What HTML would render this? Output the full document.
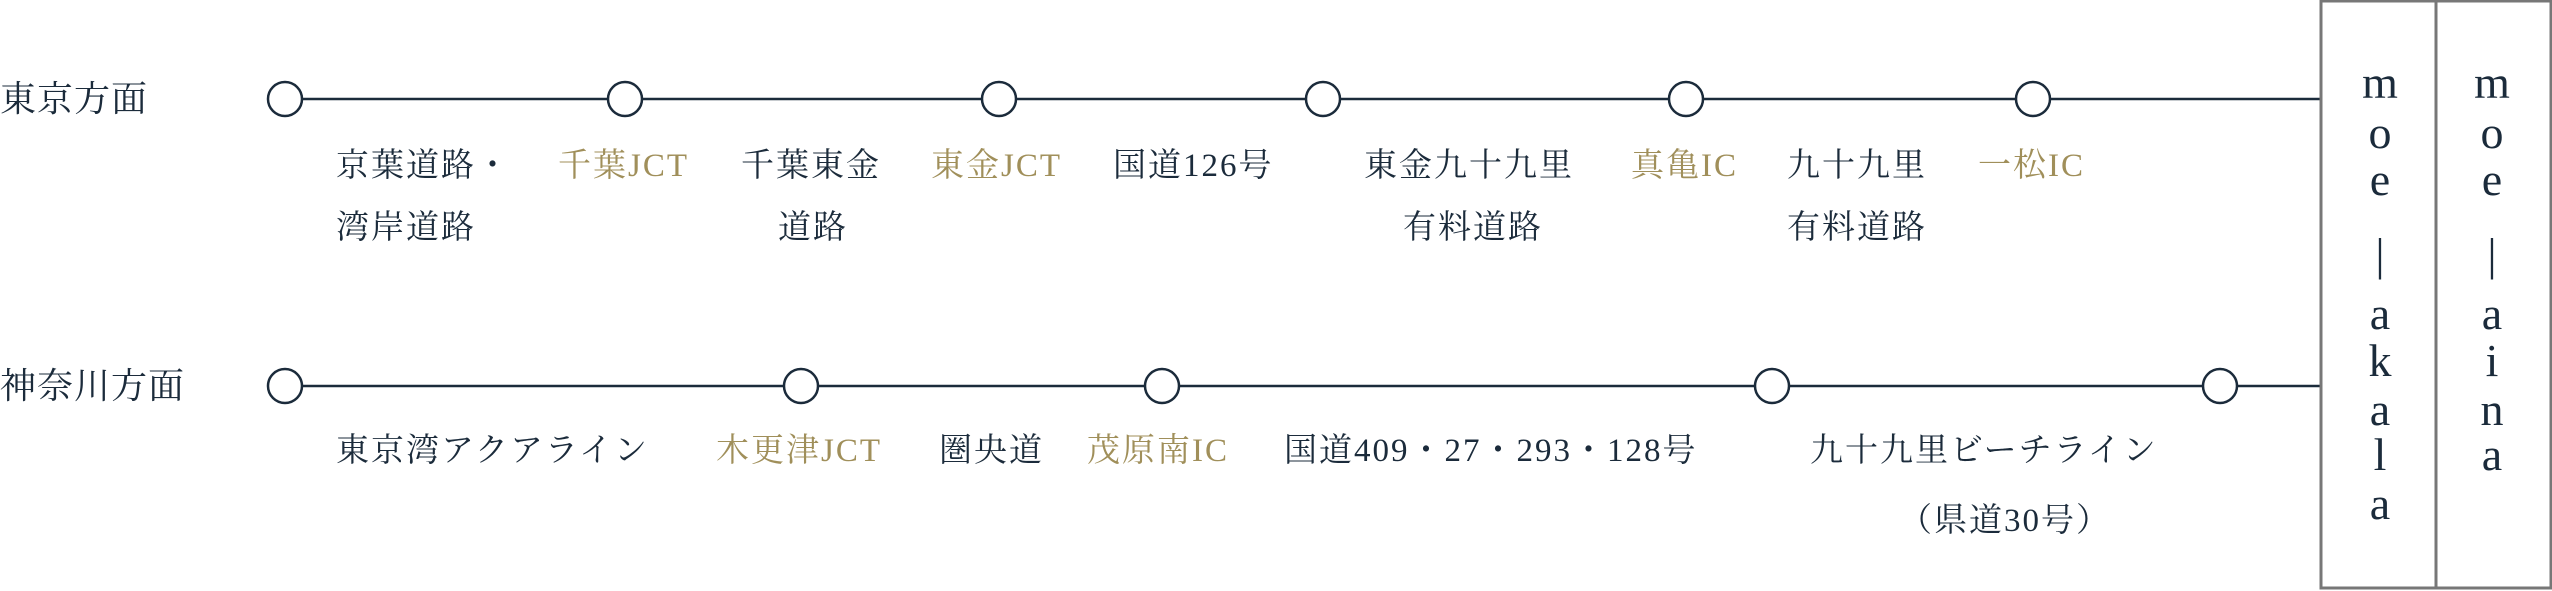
<!DOCTYPE html>
<html><head><meta charset="utf-8"><style>
body{margin:0;width:2552px;height:591px;background:#fff;overflow:hidden;position:relative;font-family:"Liberation Serif","Noto Serif CJK JP","Noto Serif CJK SC",serif;color:#1b2b3b}
.t{position:absolute;font-size:33px;line-height:34px;letter-spacing:2px;white-space:nowrap}
.g{color:#a08f5a}
.v{position:absolute;font-size:46px;line-height:46px;width:40px;text-align:center;color:#1b2b3b}
</style></head><body>
<svg width="2552" height="591" style="position:absolute;left:0;top:0">
<g stroke="#1b2b3b" stroke-width="2.5" fill="#fff">
<line x1="285" y1="99" x2="2321" y2="99"/>
<line x1="285" y1="386" x2="2321" y2="386"/>
<circle cx="285" cy="99" r="17"/><circle cx="625" cy="99" r="17"/><circle cx="999" cy="99" r="17"/><circle cx="1323" cy="99" r="17"/><circle cx="1686" cy="99" r="17"/><circle cx="2033" cy="99" r="17"/>
<circle cx="285" cy="386" r="17"/><circle cx="801" cy="386" r="17"/><circle cx="1162" cy="386" r="17"/><circle cx="1772" cy="386" r="17"/><circle cx="2220" cy="386" r="17"/>
</g>
<rect x="2321" y="1" width="230" height="587" fill="none" stroke="#777" stroke-width="3"/>
<line x1="2436" y1="1" x2="2436" y2="588" stroke="#777" stroke-width="3"/>
</svg>
<div class="t" style="left:0px;top:80px;font-size:36px;line-height:38px;letter-spacing:1px">東京方面</div>
<div class="t" style="left:0px;top:367px;font-size:36px;line-height:38px;letter-spacing:1px">神奈川方面</div>

<div class="t" style="left:336px;top:149px">京葉道路・</div>
<div class="t" style="left:336px;top:211px">湾岸道路</div>
<div class="t g" style="left:558px;top:149px">千葉JCT</div>
<div class="t" style="left:741px;top:149px">千葉東金</div>
<div class="t" style="left:778px;top:211px">道路</div>
<div class="t g" style="left:931px;top:149px">東金JCT</div>
<div class="t" style="left:1113px;top:149px">国道126号</div>
<div class="t" style="left:1364px;top:149px">東金九十九里</div>
<div class="t" style="left:1403px;top:211px">有料道路</div>
<div class="t g" style="left:1631px;top:149px">真亀IC</div>
<div class="t" style="left:1787px;top:149px">九十九里</div>
<div class="t" style="left:1787px;top:211px">有料道路</div>
<div class="t g" style="left:1978px;top:149px">一松IC</div>

<div class="t" style="left:336px;top:434px">東京湾アクアライン</div>
<div class="t g" style="left:716px;top:434px">木更津JCT</div>
<div class="t" style="left:939px;top:434px">圏央道</div>
<div class="t g" style="left:1087px;top:434px">茂原南IC</div>
<div class="t" style="left:1284px;top:434px">国道409・27・293・128号</div>
<div class="t" style="left:1810px;top:434px">九十九里ビーチライン</div>
<div class="t" style="left:1899px;top:504px">（県道30号）</div>

<div class="v" style="left:2360px;top:60px">m</div>
<div class="v" style="left:2360px;top:110px">o</div>
<div class="v" style="left:2360px;top:157px">e</div>
<div class="v" style="left:2360px;top:232px">|</div>
<div class="v" style="left:2360px;top:291px">a</div>
<div class="v" style="left:2360px;top:338px">k</div>
<div class="v" style="left:2360px;top:387px">a</div>
<div class="v" style="left:2360px;top:432px">l</div>
<div class="v" style="left:2360px;top:481px">a</div>

<div class="v" style="left:2472px;top:60px">m</div>
<div class="v" style="left:2472px;top:110px">o</div>
<div class="v" style="left:2472px;top:157px">e</div>
<div class="v" style="left:2472px;top:232px">|</div>
<div class="v" style="left:2472px;top:291px">a</div>
<div class="v" style="left:2472px;top:338px">i</div>
<div class="v" style="left:2472px;top:387px">n</div>
<div class="v" style="left:2472px;top:432px">a</div>
</body></html>
